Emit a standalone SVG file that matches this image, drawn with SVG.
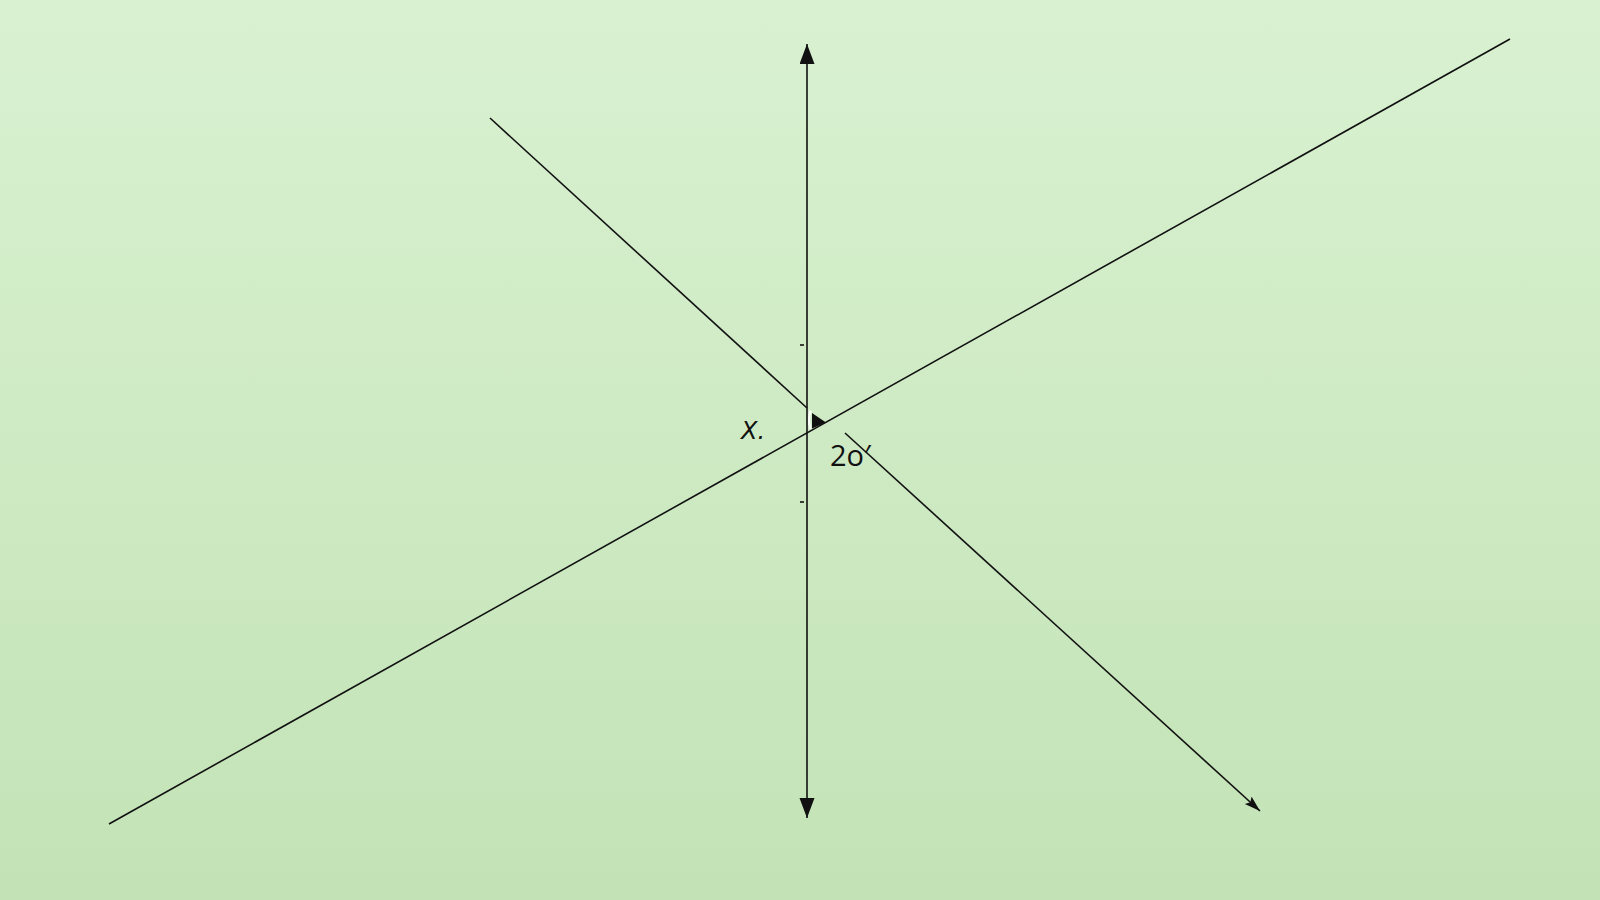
<svg xmlns="http://www.w3.org/2000/svg" width="1600" height="900" viewBox="0 0 1600 900">
  <defs>
    <linearGradient id="bg" x1="0" y1="0" x2="0" y2="1">
      <stop offset="0" stop-color="#d9f1d1"/>
      <stop offset="1" stop-color="#c3e3b6"/>
    </linearGradient>
    <marker id="arrowBig" markerUnits="userSpaceOnUse" markerWidth="22" markerHeight="16" refX="20" refY="7.5" orient="auto">
      <path d="M0,0 L20,7.5 L0,15 Z" fill="#111"/>
    </marker>
    <marker id="arrowSmall" markerUnits="userSpaceOnUse" markerWidth="18" markerHeight="12" refX="16" refY="5" orient="auto">
      <path d="M0,0 L16,5 L0,10 L3,5 Z" fill="#111"/>
    </marker>
    <style>
      .ln { stroke: #111; stroke-width: 1.6; fill: none; }
      .lbl { font-family: "Open Sans", "DejaVu Sans", sans-serif; fill: #111; }
      .lblx { font-family: "DejaVu Sans", "Open Sans", sans-serif; fill: #111; }
    </style>
  </defs>
  <rect x="0" y="0" width="1600" height="900" fill="url(#bg)"/>

  <g id="connectors">
    <line id="axis-up" class="ln" x1="807" y1="420" x2="807" y2="44" marker-end="url(#arrowBig)"/>
    <line id="axis-down" class="ln" x1="807" y1="420" x2="807" y2="818" marker-end="url(#arrowBig)"/>
    <line id="line-diag" class="ln" x1="109" y1="824" x2="1510" y2="39"/>
    <line id="ray-in" class="ln" x1="490" y1="118" x2="807" y2="408"/>
    <line id="ray-out" class="ln" x1="845" y1="433" x2="1260" y2="811" marker-end="url(#arrowSmall)"/>
    <line id="tick-top" class="ln" x1="800" y1="345" x2="804" y2="345"/>
    <line id="tick-bottom" class="ln" x1="800" y1="502" x2="804" y2="502"/>
  </g>

  <g id="angle-mark">
    <path d="M810.5,410.5 Q807.8,420 810.5,429" stroke="#ffffff" stroke-width="2.2" fill="none"/>
    <polygon points="812,413 826,422.5 812,428.5" fill="#111"/>
  </g>

  <g id="label-x">
    <text class="lblx" x="741" y="438.5" font-size="24" font-style="italic">X.</text>
  </g>
  <g id="label-2o">
    <text class="lbl" x="830" y="466" font-size="29">2o′</text>
  </g>
</svg>
